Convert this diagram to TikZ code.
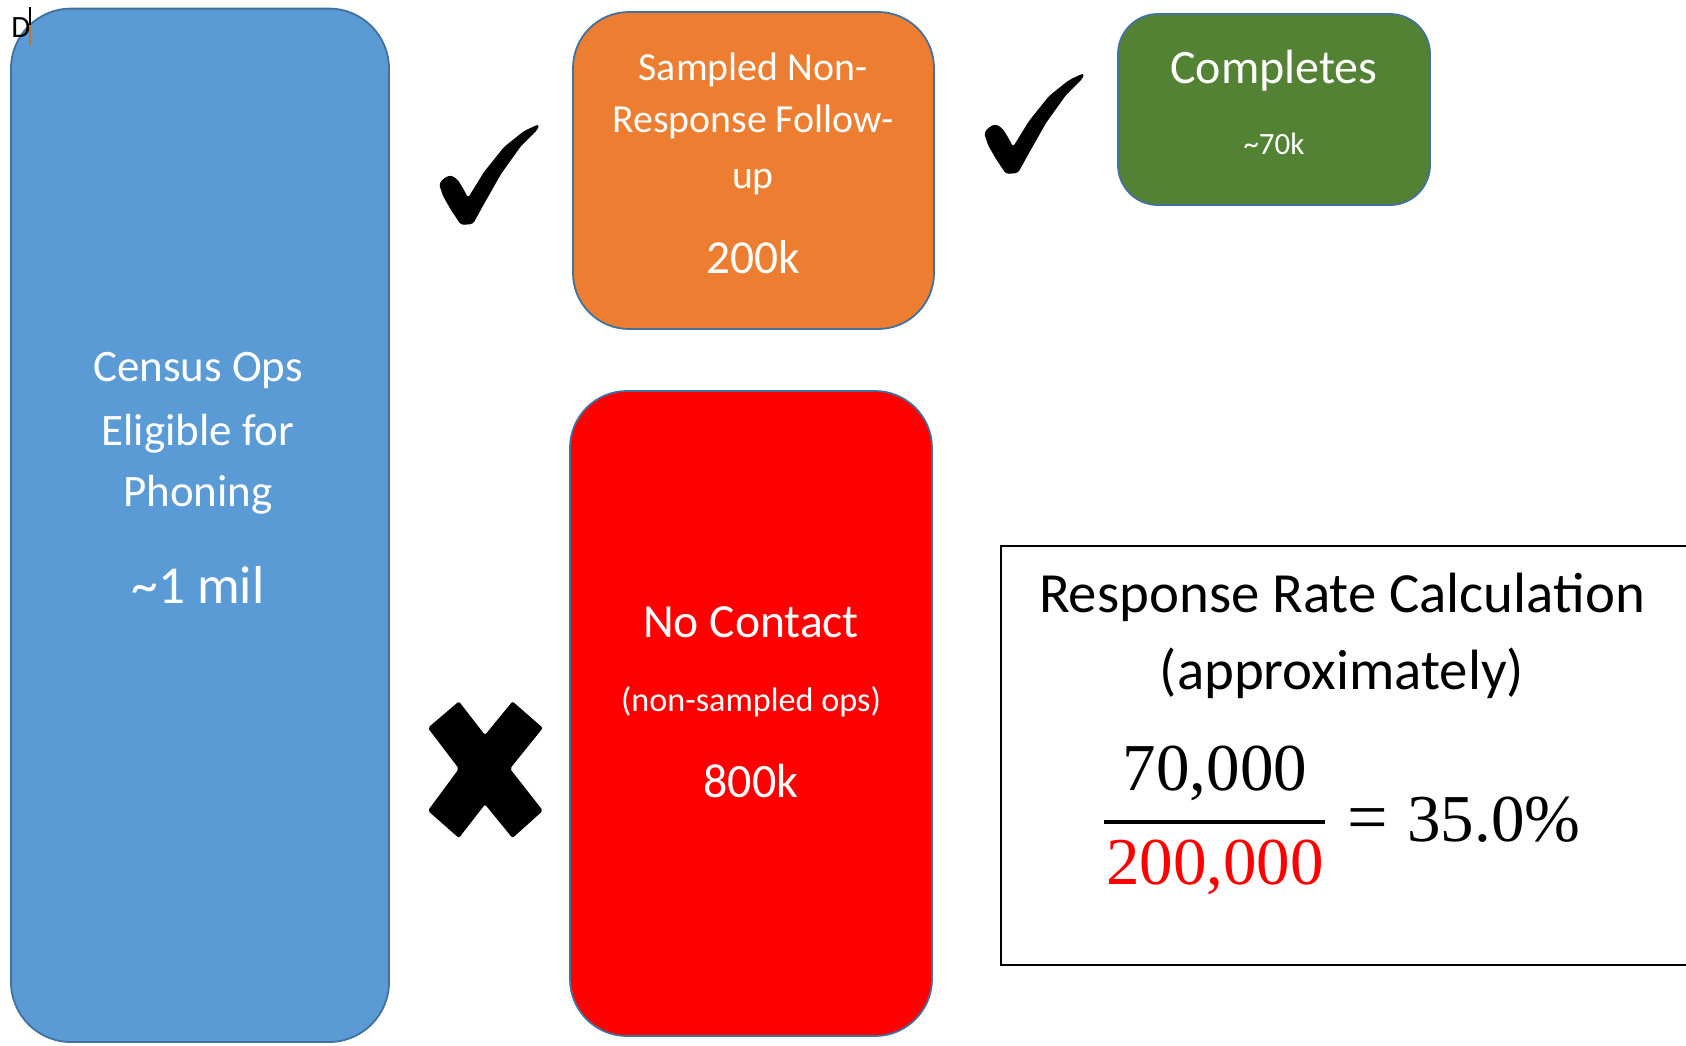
\documentclass[tikz,border=0pt]{standalone}
\usepackage{fontspec}
\setmainfont{Carlito}
\newfontfamily\numfont{Liberation Serif}
\definecolor{boxblue}{HTML}{5B9BD5}
\definecolor{boxorange}{HTML}{ED7D31}
\definecolor{boxgreen}{HTML}{548235}
\definecolor{boxred}{HTML}{FF0000}
\definecolor{edgeblue}{HTML}{41719C}
\definecolor{cursorbrown}{HTML}{B8763A}
\newcommand{\fs}[1]{\fontsize{#1}{1.2\dimexpr #1pt\relax}\selectfont}
\tikzset{
  panel/.style={draw=edgeblue, line width=0.9pt, inner sep=0pt, outer sep=0pt},
  lbl/.style={text=white, inner sep=0pt, anchor=base},
  blk/.style={text=black, inner sep=0pt, anchor=base},
  checkmark/.pic={
    \fill[black, rounded corners=1.5pt] (0,60) -- (5,54) -- (12,51) -- (19,56) -- (25,66) -- (29,74)
      -- (45,48) -- (65,23) -- (85,7) -- (100,0) -- (99,5) -- (82,22) -- (62,50) -- (45,80)
      -- (34,100) -- (22,101) -- (12,86) -- (4,72) -- cycle;
  }
}
\begin{document}
\begin{tikzpicture}[x=0.5pt,y=-0.5pt]
\useasboundingbox (0,0) rectangle (1686,1045);
\clip (0,0) rectangle (1686,1045);

% boxes
\node[panel, fill=boxblue, rounded corners=30pt, minimum width=189pt, minimum height=516.7pt] (census) at (200,525.3) {};
\node[panel, fill=boxorange, rounded corners=28pt, minimum width=180.5pt, minimum height=158.5pt] (sampled) at (753.5,170.5) {};
\node[panel, fill=boxgreen, rounded corners=20pt, minimum width=156pt, minimum height=95.5pt] (completes) at (1274,109.5) {};
\node[panel, fill=boxred, rounded corners=28.5pt, minimum width=181pt, minimum height=322.5pt] (nocontact) at (751,713.5) {};
\node[draw=black, line width=1pt, fill=white, inner sep=0pt, minimum width=349.5pt, minimum height=209.5pt] (calc) at (1350.5,755.5) {};

% blue box text
\node[lbl, font=\fs{22.5}] (c1) at (198,381) {Census Ops};
\node[lbl, font=\fs{22.5}] (c2) at (198,445) {Eligible for};
\node[lbl, font=\fs{22.5}] (c3) at (198,506) {Phoning};
\node[lbl, font=\fs{26.7}] (c4) at (198,603) {\char`\~1 mil};

% orange box text
\node[lbl, font=\fs{19.9}] (s1) at (753,80) {Sampled Non-};
\node[lbl, font=\fs{19.9}] (s2) at (753,132) {Response Follow-};
\node[lbl, font=\fs{19.9}] (s3) at (753,188) {up};
\node[lbl, font=\fs{23.7}] (s4) at (753,273) {200k};

% green box text
\node[lbl, font=\fs{24}] (g1) at (1274,83) {Completes};
\node[lbl, font=\fs{15.5}] (g2) at (1274,154) {\char`\~70k};

% red box text
\node[lbl, font=\fs{23.8}] (r1) at (751,637) {No Contact};
\node[lbl, font=\fs{17.1}] (r2) at (751,711) {(non-sampled ops)};
\node[lbl, font=\fs{24}] (r3) at (751,797) {800k};

% calculation text
\node[blk, font=\fs{28.4}] (t1) at (1342,612) {Response Rate Calculation};
\node[blk, font=\fs{28.4}] (t2) at (1342,689) {(approximately)};
\node[blk, font=\numfont\fs{33.5}] (num) at (1215,790) {70,000};
\node[blk, text=red, font=\numfont\fs{33.5}] (den) at (1215,884) {200,000};
\draw[line width=1.8pt] (1104,822) -- (1325,822);
\node[blk, font=\numfont\fs{36}] (eq) at (1368,841) {=};
\node[blk, font=\numfont\fs{33.5}] (res) at (1494,841) {35.0\%};

% check marks
\pic (chkA) at (439,124) {checkmark};
\pic (chkB) at (984,73) {checkmark};

% X mark
\fill[black, rounded corners=1pt] (458.9,701.4) -- (485,735) -- (512.5,701.4) -- (542.9,727.9) -- (510,768.7)
  -- (542.9,810.7) -- (512.5,838) -- (485,804.4) -- (458.9,838) -- (427.9,810.7) -- (458.9,768.7)
  -- (427.9,727.9) -- cycle;

% cursor mark
\node[blk, font=\fs{15.5}, anchor=base west] (dmark) at (11,37) {D};
\draw[line width=0.9pt] (30,7) -- (30,25);
\draw[cursorbrown, line width=1pt] (30,25) -- (30,46);
\end{tikzpicture}
\end{document}
